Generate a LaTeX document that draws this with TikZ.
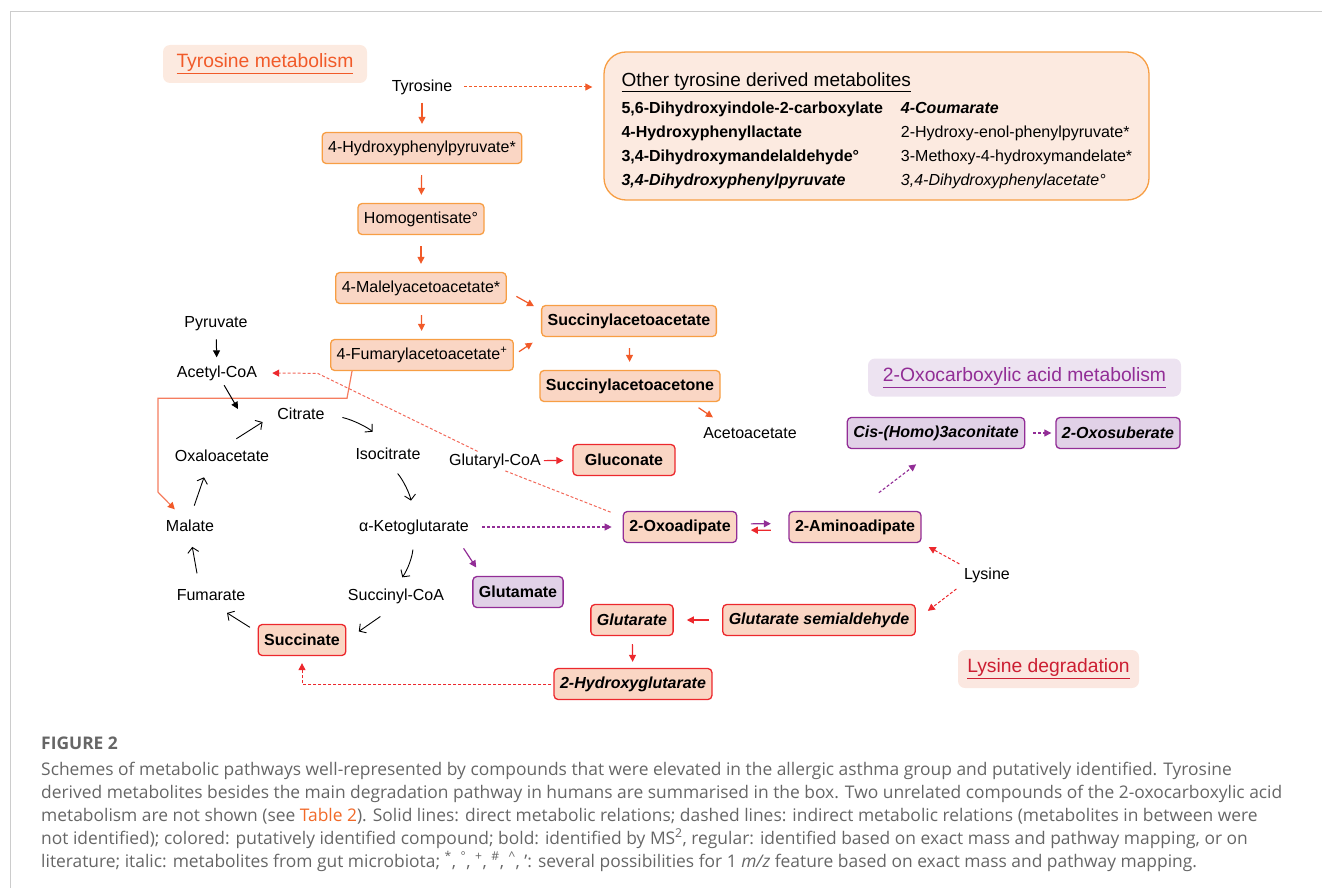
\documentclass[tikz,border=0pt]{standalone}
\usepackage{fontspec}
\setmainfont{Liberation Sans}
\newfontfamily\capfont{Open Sans}
\usetikzlibrary{arrows.meta,calc}

\definecolor{tyrorange}{RGB}{241,90,41}
\definecolor{boxorange}{RGB}{247,158,68}
\definecolor{peach}{RGB}{250,214,196}
\definecolor{peachpale}{RGB}{252,234,224}
\definecolor{linered}{RGB}{236,40,45}
\definecolor{softred}{RGB}{242,105,90}
\definecolor{softorange}{RGB}{245,125,95}
\definecolor{purp}{RGB}{146,45,150}
\definecolor{lavender}{RGB}{225,209,231}
\definecolor{lavpale}{RGB}{237,227,241}
\definecolor{lysred}{RGB}{204,30,50}
\definecolor{lyspale}{RGB}{251,231,224}
\definecolor{framegray}{RGB}{204,204,204}
\definecolor{capgray}{RGB}{102,102,102}
\definecolor{tablink}{RGB}{241,105,40}

\tikzset{
  met/.style={font=\fontsize{16}{19}\selectfont, inner sep=2pt},
  metbox/.style={met, rounded corners=4pt, line width=1.3pt, minimum height=31pt, inner xsep=6pt},
  orbox/.style={metbox, draw=boxorange, fill=peach},
  rdbox/.style={metbox, draw=linered, fill=peach},
  pubox/.style={metbox, draw=purp, fill=peach},
  lvbox/.style={metbox, draw=purp, fill=lavender},
  othbox/.style={draw=boxorange, fill=peachpale, line width=1.3pt, rounded corners=22pt,
    minimum width=545pt, minimum height=148pt},
  ttl/.style={rounded corners=7pt, minimum height=38pt, font=\fontsize{19.3}{22}\selectfont},
  capt/.style={font=\capfont\fontsize{17.4}{23}\selectfont, text=capgray, inner sep=0pt, anchor=base west},
  headtri/.style={-{Triangle[length=7pt,width=7pt]}},
  tyarr/.style={draw=tyrorange, line width=1.2pt, headtri, shorten <=11pt, shorten >=8pt},
  tydash/.style={draw=tyrorange, line width=1pt, dash pattern=on 3pt off 2pt, headtri},
  orline/.style={draw=softorange, line width=1.2pt, -{Triangle[length=7pt,width=7pt,color=tyrorange]}},
  blkarr/.style={draw=black, line width=1pt, headtri, shorten <=6pt, shorten >=6pt},
  cycarr/.style={draw=black, line width=0.9pt, -{Straight Barb[length=5pt,width=11pt]}},
  rdarr/.style={draw=linered, line width=1.2pt, headtri},
  rddash/.style={draw=linered, line width=1pt, dash pattern=on 3pt off 2pt, headtri},
  sfdash/.style={draw=softred, line width=1pt, dash pattern=on 3pt off 2pt},
  pparr/.style={draw=purp, line width=1.2pt, headtri},
  ppdash/.style={draw=purp, line width=1.1pt, dash pattern=on 3pt off 2pt, headtri}
}

\begin{document}
\begin{tikzpicture}[x=1pt, y=-1pt]
    \useasboundingbox (0,0) rectangle (1322,888);
    % Marco
    \draw[framegray, line width=1pt] (10,888) -- (10,12) -- (1322,12);
    % Titulos
    \node[ttl, fill=peachpale, text=tyrorange, minimum width=204pt] (ttyr) at (265,64) {\underline{Tyrosine metabolism}};
    \node[ttl, fill=lavpale, text=purp, minimum width=313pt] (toxo) at (1024.5,377.5) {\underline{2-Oxocarboxylic acid metabolism}};
    \node[ttl, fill=lyspale, text=lysred, minimum width=181pt] (tlys) at (1048.5,669) {\underline{Lysine degradation}};
    % Caja de otros metabolitos
    \node[othbox] (oth) at (876.5,126) {};
    \node[anchor=north west, inner sep=0pt, font=\fontsize{16}{24}\selectfont] (othlist) at ($(oth.north west)+(18,18)$) {%
      \begin{tabular}{@{}l@{\hspace{18pt}}l@{}}
        \multicolumn{2}{@{}l}{\fontsize{19}{24}\selectfont\underline{Other tyrosine derived metabolites}}\\[3pt]
        \textbf{5,6-Dihydroxyindole-2-carboxylate} & \textbf{\textit{4-Coumarate}}\\
        \textbf{4-Hydroxyphenyllactate} & 2-Hydroxy-enol-phenylpyruvate*\\
        \textbf{3,4-Dihydroxymandelaldehyde°} & 3-Methoxy-4-hydroxymandelate*\\
        \textbf{\textit{3,4-Dihydroxyphenylpyruvate}} & \textit{3,4-Dihydroxyphenylacetate°}
      \end{tabular}};
    % Ruta de tirosina
    \node[met] (tyr) at (422,87) {Tyrosine};
    \node[orbox] (hpp) at (422,148) {4-Hydroxyphenylpyruvate*};
    \node[orbox] (hga) at (421,219) {Homogentisate°};
    \node[orbox] (maa) at (421,288) {4-Malelyacetoacetate*};
    \node[orbox] (faa) at (422,355) {4-Fumarylacetoacetate\textsuperscript{+}};
    \node[orbox] (sac) at (629,321) {\textbf{Succinylacetoacetate}};
    \node[orbox] (sacn) at (630,386) {\textbf{Succinylacetoacetone}};
    \node[met] (aca) at (750,433) {Acetoacetate};
    % Ciclo de Krebs
    \node[met] (pyr) at (216,324) {Pyruvate};
    \node[met] (acoa) at (217,373) {Acetyl-CoA};
    \node[met] (cit) at (301,414) {Citrate};
    \node[met] (oaa) at (222,456) {Oxaloacetate};
    \node[met] (ict) at (388,454) {Isocitrate};
    \node[met] (mal) at (190,526) {Malate};
    \node[met] (akg) at (414,527) {α-Ketoglutarate};
    \node[met] (fum) at (211,595) {Fumarate};
    \node[met] (scoa) at (396,596) {Succinyl-CoA};
    \node[rdbox] (suc) at (302,640) {\textbf{Succinate}};
    \node[lvbox] (glu) at (518,592) {\textbf{Glutamate}};
    \node[met] (gcoa) at (495,461) {Glutaryl-CoA};
    \node[rdbox, minimum width=102pt] (glc) at (624,460) {\textbf{Gluconate}};
    \coordinate (acin) at (238,409);
    % 2-oxocarboxilicos y lisina
    \node[pubox] (oxa) at (680,527) {\textbf{2-Oxoadipate}};
    \node[pubox] (ama) at (855,527) {\textbf{2-Aminoadipate}};
    \node[lvbox] (cha) at (936,433) {\textbf{\textit{Cis-(Homo)3aconitate}}};
    \node[lvbox] (oxs) at (1118,433) {\textbf{\textit{2-Oxosuberate}}};
    \node[met] (lys) at (987,575) {Lysine};
    \node[rdbox] (gsa) at (819,620) {\textbf{\textit{Glutarate semialdehyde}}};
    \node[rdbox] (gta) at (632,620) {\textbf{\textit{Glutarate}}};
    \node[rdbox] (hgl) at (633,684) {\textbf{\textit{2-Hydroxyglutarate}}};
    % Flechas tirosina
    \draw[tydash, shorten <=10pt, shorten >=11pt] (tyr.east) -- (tyr.east -| oth.west);
    \draw[tyarr, shorten <=6pt] (tyr) -- (hpp);
    \draw[tyarr] (hpp) -- (hga);
    \draw[tyarr] (hga) -- (maa);
    \draw[tyarr] (maa) -- (faa);
    \draw[tyarr] (maa.-2) -- (sac.173);
    \draw[tyarr, shorten <=6pt, shorten >=10pt] (faa.east) -- (sac.south west);
    \draw[tyarr] (sac) -- (sacn);
    \draw[tyarr, shorten <=10pt, shorten >=14pt] (sacn.-15) -- (aca.163);
    \draw[orline, shorten >=12pt] (faa.193) -- ++(-5,27) -- ++(-189,0) -- ++(0,94) -- (mal.130);
    % Flechas ciclo
    \draw[blkarr] (pyr) -- (acoa);
    \draw[blkarr, shorten >=0pt, shorten <=3pt] (acoa) -- (acin);
    \draw[cycarr, shorten <=17pt, shorten >=15pt] (oaa.north) -- (cit.west);
    \draw[cycarr, shorten <=16pt, shorten >=21pt] (cit.east) to[bend left=15] (ict.north);
    \draw[cycarr, shorten <=15pt, shorten >=17pt] (ict.south) to[bend left=15] (akg.north);
    \draw[cycarr, shorten <=13pt, shorten >=11pt] (akg.south) to[bend left=15] (scoa.north);
    \draw[cycarr, shorten <=19pt, shorten >=15pt] (scoa.south) -- (suc.east);
    \draw[cycarr, shorten <=9pt, shorten >=19pt] (suc.170) -- (fum.south);
    \draw[cycarr, shorten <=14pt, shorten >=13pt] (fum.146) -- (mal.south);
    \draw[cycarr, shorten <=13pt, shorten >=14pt] (mal.north) -- (oaa.211);
    % Flechas glutaril y purpura
    \draw[sfdash, shorten <=13pt] (oxa.170) -- (gcoa.-45);
    \draw[sfdash, -{Triangle[length=7pt,width=7pt,color=linered]}, shorten >=13pt] (gcoa.151) -- ++(-160,-78) -- (acoa.east);
    \draw[rdarr, shorten <=1pt, shorten >=9pt] (gcoa) -- (glc);
    \draw[ppdash, shorten <=11pt, shorten >=11pt] (akg) -- (oxa);
    \draw[pparr, shorten <=14pt, shorten >=10pt] (akg.-13) -- (glu.156);
    \draw[pparr, shorten <=13.5pt, shorten >=17.5pt] (oxa.3.5) -- (ama.177);
    \draw[rdarr, shorten <=17.5pt, shorten >=13.5pt] (ama.-177) -- (oxa.-3.5);
    \draw[ppdash, shorten <=30pt, shorten >=25pt] (ama.north) -- (cha.south);
    \draw[ppdash, shorten <=8pt, shorten >=4pt] (cha) -- (oxs);
    % Flechas lisina
    \draw[rddash, shorten <=3pt, shorten >=8pt] (lys.north west) -- (ama.south east);
    \draw[rddash, shorten <=7pt, shorten >=15pt] (lys.south west) -- (gsa.east);
    \draw[rdarr, shorten <=13pt, shorten >=13pt] (gsa) -- (gta);
    \draw[rdarr, shorten <=8pt, shorten >=6pt] (gta) -- (hgl);
    \draw[rddash, shorten <=2pt, shorten >=7pt] (hgl.west) -| (suc.south);
    % Pie de figura
    \node[capt] (figlab) at (41,749) {\bfseries FIGURE 2};
    \node[capt] (cap1) at (41,775) {Schemes of metabolic pathways well-represented by compounds that were elevated in the allergic asthma group and putatively identified. Tyrosine};
    \node[capt] (cap2) at (41,798) {derived metabolites besides the main degradation pathway in humans are summarised in the box. Two unrelated compounds of the 2-oxocarboxylic acid};
    \node[capt] (cap3) at (41,821) {metabolism are not shown (see {\color{tablink}Table 2}). Solid lines: direct metabolic relations; dashed lines: indirect metabolic relations (metabolites in between were};
    \node[capt] (cap4) at (41,844) {not identified); colored: putatively identified compound; bold: identified by MS\textsuperscript{2}, regular: identified based on exact mass and pathway mapping, or on};
    \node[capt] (cap5) at (41,867) {literature; italic: metabolites from gut microbiota; \textsuperscript{*}, \textsuperscript{°}, \textsuperscript{+}, \textsuperscript{\#}, \textsuperscript{\textasciicircum}, ’: several possibilities for 1 \textit{m/z} feature based on exact mass and pathway mapping.};
\end{tikzpicture}
\end{document}
